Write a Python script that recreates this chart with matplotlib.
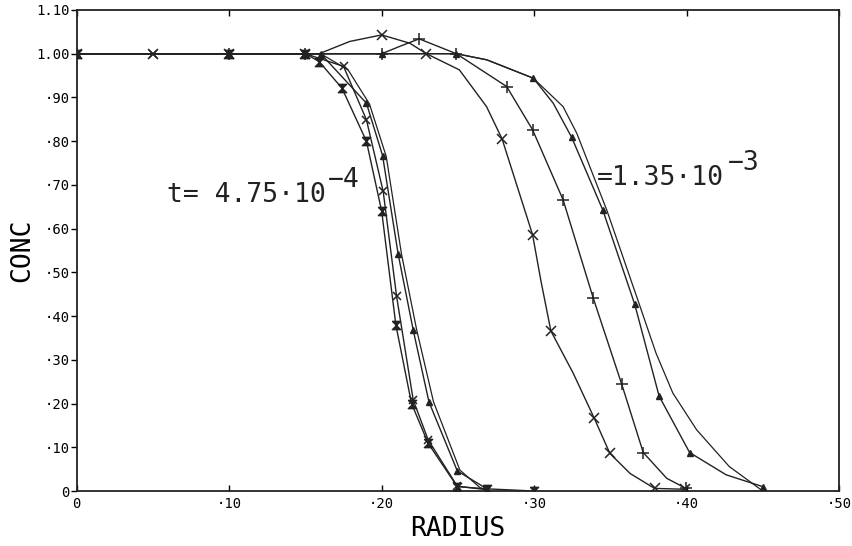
import numpy as np
import matplotlib
matplotlib.use("Agg")
import matplotlib.pyplot as plt

# values; *_n = marked nodes, *_s = extra points on the drawn curve
# early time t=4.75e-4
r_e_hour_n = [0, 0.10, 0.15, 0.159, 0.174, 0.19, 0.20, 0.2093, 0.2196, 0.2305, 0.2496, 0.269, 0.30]
c_e_hour_n = [1, 1, 1, 0.982, 0.921, 0.80, 0.64, 0.38, 0.20, 0.109, 0.01, 0.005, 0.0]
r_e_x_n = [0, 0.05, 0.10, 0.15, 0.175, 0.19, 0.201, 0.2098, 0.2207, 0.2305, 0.2496, 0.269]
c_e_x_n = [1, 1, 1, 1, 0.971, 0.849, 0.685, 0.445, 0.208, 0.117, 0.011, 0.003]
r_e_tri_n = [0, 0.10, 0.15, 0.16, 0.19, 0.2006, 0.2108, 0.2207, 0.231, 0.2496, 0.269]
c_e_tri_n = [1, 1, 1, 1.0, 0.887, 0.767, 0.542, 0.368, 0.204, 0.046, 0.005]
r_e_line = [0, 0.16, 0.178, 0.192, 0.203, 0.213, 0.223, 0.234, 0.2513, 0.2644, 0.27]
c_e_line = [1, 1.0, 0.963, 0.885, 0.765, 0.542, 0.368, 0.204, 0.048, 0.008, 0.0]

# late time t=1.35e-3
r_l_x_n = [0, 0.05, 0.10, 0.15, 0.20, 0.2294, 0.279, 0.299, 0.311, 0.3395, 0.3497, 0.379, 0.399]
c_l_x_n = [1, 1, 1, 1, 1.043, 1.0, 0.805, 0.586, 0.366, 0.166, 0.086, 0.006, 0.004]
r_l_x_s = [0.159, 0.179, 0.2185, 0.251, 0.2688, 0.3045, 0.3257, 0.363]
c_l_x_s = [1.0, 1.028, 1.024, 0.963, 0.879, 0.48, 0.269, 0.04]
r_l_plus_n = [0, 0.10, 0.15, 0.20, 0.2246, 0.249, 0.282, 0.299, 0.319, 0.3388, 0.3574, 0.3716, 0.3996]
c_l_plus_n = [1, 1, 1, 1.0, 1.034, 1.0, 0.925, 0.826, 0.666, 0.441, 0.245, 0.088, 0.006]
r_l_plus_s = [0.212, 0.387]
c_l_plus_s = [1.017, 0.029]
r_l_tri_n = [0, 0.10, 0.15, 0.20, 0.249, 0.2995, 0.3246, 0.345, 0.366, 0.382, 0.402, 0.45]
c_l_tri_n = [1, 1, 1, 1, 1.0, 0.944, 0.809, 0.643, 0.427, 0.217, 0.088, 0.01]
r_l_tri_s = [0.269, 0.3125, 0.426]
c_l_tri_s = [0.986, 0.887, 0.037]
r_l_line = [0, 0.249, 0.269, 0.2995, 0.319, 0.328, 0.3476, 0.369, 0.380, 0.391, 0.4066, 0.428, 0.45]
c_l_line = [1, 1.0, 0.986, 0.944, 0.879, 0.818, 0.643, 0.427, 0.315, 0.224, 0.14, 0.056, 0.0]

xticks = [0, 0.1, 0.2, 0.3, 0.4, 0.5]
xlabels = ["0", "·10", "·20", "·30", "·40", "·50"]
yticks = [0, 0.1, 0.2, 0.3, 0.4, 0.5, 0.6, 0.7, 0.8, 0.9, 1.0, 1.1]
ylabels = ["0", "·10", "·20", "·30", "·40", "·50", "·60", "·70", "·80", "·90", "1.00", "1.10"]

hourglass = [(-1, 1), (1, 1), (-1, -1), (1, -1), (-1, 1)]
k = "#222222"
mono = "DejaVu Sans Mono"

fig = plt.figure(figsize=(8.53, 5.46), dpi=100)
ax = fig.add_axes([0.090, 0.1007, 0.8936, 0.881])


def curve(rn, cn, rs=(), cs=(), **mk):
    r = np.concatenate([rn, rs])
    c = np.concatenate([cn, cs])
    o = np.argsort(r, kind="stable")
    ax.plot(r[o], c[o], color=k, lw=1.0)
    ax.plot(rn, cn, ls="none", color=k, **mk)


curve(r_e_hour_n, c_e_hour_n, marker=hourglass, ms=6)
curve(r_e_x_n, c_e_x_n, marker="x", ms=6, mew=1.1)
curve(r_e_tri_n, c_e_tri_n, marker="^", ms=5)
ax.plot(r_e_line, c_e_line, color=k, lw=0.9)

curve(r_l_x_n, c_l_x_n, r_l_x_s, c_l_x_s, marker="x", ms=7, mew=1.1)
curve(r_l_plus_n, c_l_plus_n, r_l_plus_s, c_l_plus_s, marker="+", ms=8, mew=1.1)
curve(r_l_tri_n, c_l_tri_n, r_l_tri_s, c_l_tri_s, marker="^", ms=5)
ax.plot(r_l_line, c_l_line, color=k, lw=0.9)

ax.set_xlim(0, 0.5)
ax.set_ylim(0, 1.1)
ax.set_xticks(xticks)
ax.set_xticklabels(xlabels)
ax.set_yticks(yticks)
ax.set_yticklabels(ylabels)
ax.tick_params(axis="x", direction="in", top=True, length=4, width=1, labelsize=10, pad=4)
ax.tick_params(axis="y", direction="out", length=4, width=1, labelsize=10, pad=1)
for s in ax.spines.values():
    s.set_linewidth(1.3)
    s.set_color(k)

for lab in ax.get_xticklabels() + ax.get_yticklabels():
    lab.set_family(mono)
ax.set_xlabel("RADIUS", family=mono, fontsize=19, labelpad=4)
ax.set_ylabel("CONC", family=mono, fontsize=19, labelpad=1)

ax.text(0.059, 0.661, "t= 4.75·10", family=mono, fontsize=19, color=k, va="baseline")
ax.text(0.1647, 0.696, "−4", family=mono, fontsize=19, color=k, va="baseline")
ax.text(0.3412, 0.699, "=1.35·10", family=mono, fontsize=19, color=k, va="baseline")
ax.text(0.4272, 0.735, "−3", family=mono, fontsize=19, color=k, va="baseline")

plt.savefig("out.png", dpi=100)
